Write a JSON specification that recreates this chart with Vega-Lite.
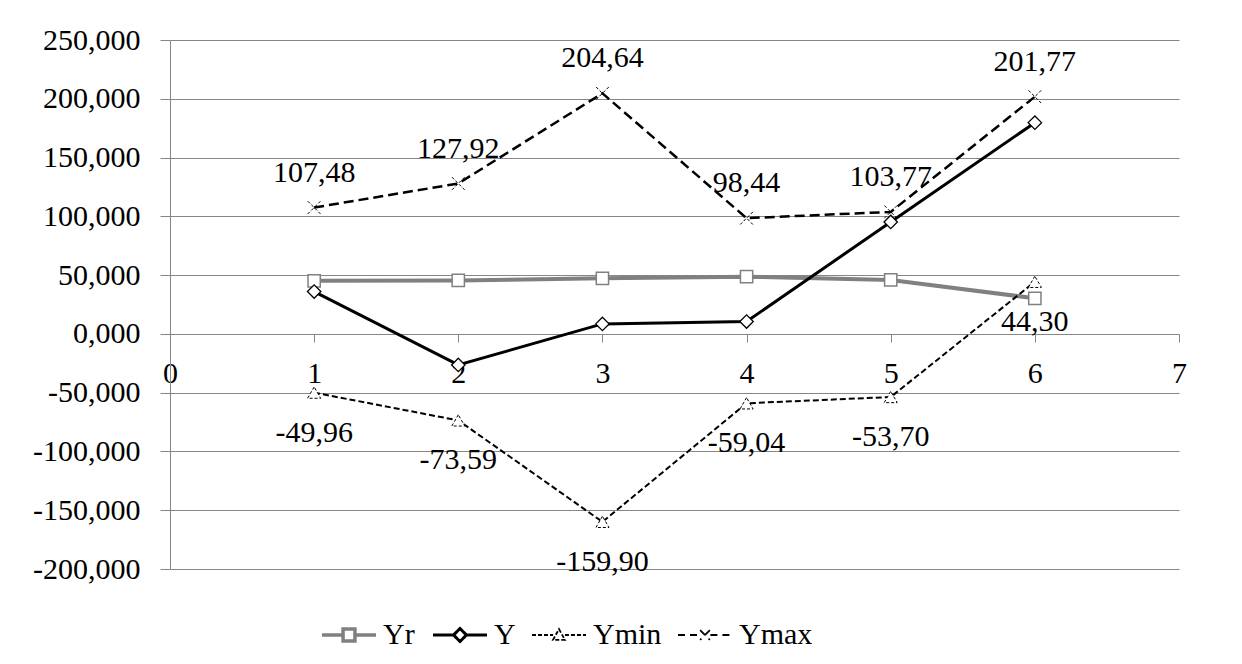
{
  "$schema": "https://vega.github.io/schema/vega-lite/v6.json",
  "width": 1009,
  "height": 529,
  "autosize": "none",
  "padding": {"left": 170, "top": 40, "right": 63, "bottom": 95},
  "background": "white",
  "data": {
    "values": [
      {"x": 1, "series": "Yr", "value": 45.1},
      {"x": 2, "series": "Yr", "value": 45.5},
      {"x": 3, "series": "Yr", "value": 47.3},
      {"x": 4, "series": "Yr", "value": 48.7},
      {"x": 5, "series": "Yr", "value": 45.9},
      {"x": 6, "series": "Yr", "value": 30.3},
      {"x": 1, "series": "Y", "value": 36.0},
      {"x": 2, "series": "Y", "value": -26.4},
      {"x": 3, "series": "Y", "value": 8.5},
      {"x": 4, "series": "Y", "value": 10.5},
      {"x": 5, "series": "Y", "value": 95.2},
      {"x": 6, "series": "Y", "value": 179.7},
      {"x": 1, "series": "Ymin", "value": -49.96},
      {"x": 2, "series": "Ymin", "value": -73.59},
      {"x": 3, "series": "Ymin", "value": -159.90},
      {"x": 4, "series": "Ymin", "value": -59.04},
      {"x": 5, "series": "Ymin", "value": -53.70},
      {"x": 6, "series": "Ymin", "value": 44.30},
      {"x": 1, "series": "Ymax", "value": 107.48},
      {"x": 2, "series": "Ymax", "value": 127.92},
      {"x": 3, "series": "Ymax", "value": 204.64},
      {"x": 4, "series": "Ymax", "value": 98.44},
      {"x": 5, "series": "Ymax", "value": 103.77},
      {"x": 6, "series": "Ymax", "value": 201.77}
    ]
  },
  "config": {
    "locale": {
      "number": {"decimal": ",", "thousands": ".", "grouping": [3], "currency": ["", ""], "minus": "-"}
    },
    "view": {"stroke": null},
    "font": "Liberation Serif",
    "axis": {
      "labelFont": "Liberation Serif",
      "labelFontSize": 30,
      "labelColor": "#000000",
      "domainColor": "#868686",
      "tickColor": "#868686",
      "gridColor": "#868686",
      "domainWidth": 1,
      "tickWidth": 1,
      "gridWidth": 1,
      "title": null
    },
    "legend": {
      "labelFont": "Liberation Serif",
      "labelFontSize": 30,
      "labelColor": "#000000"
    }
  },
  "encoding": {
    "x": {
      "field": "x",
      "type": "quantitative",
      "scale": {"domain": [0, 7], "nice": false, "zero": false},
      "axis": {
        "values": [0, 1, 2, 3, 4, 5, 6, 7],
        "format": "d",
        "grid": false,
        "tickSize": 8,
        "labelPadding": 16,
        "offset": -235,
        "labelFlush": false,
        "labelOverlap": false
      }
    },
    "y": {
      "field": "value",
      "type": "quantitative",
      "scale": {"domain": [-200, 250], "nice": false, "zero": false},
      "axis": {
        "values": [-200, -150, -100, -50, 0, 50, 100, 150, 200, 250],
        "format": ".3f",
        "grid": true,
        "tickSize": 10,
        "labelPadding": 20,
        "labelOverlap": false
      }
    }
  },
  "layer": [
    {
      "transform": [{"filter": "datum.series == 'Yr'"}],
      "mark": {"type": "line", "strokeWidth": 4},
      "encoding": {
        "color": {
          "field": "series",
          "type": "nominal",
          "scale": {"domain": ["Yr", "Y", "Ymin", "Ymax"], "range": ["#808080", "#000000", "#000000", "#000000"]},
          "legend": {
            "title": null,
            "orient": "none",
            "direction": "horizontal",
            "columns": 4,
            "legendX": 164,
            "legendY": 580,
            "padding": 0,
            "columnPadding": 12,
            "labelOffset": 19,
            "symbolSize": 2916,
            "symbolType": {"expr": "datum.value == 'Yr' ? 'M-1,0H-0.22M0.22,0H1M-0.22,-0.22H0.22V0.22H-0.22Z' : datum.value == 'Y' ? 'M-1,0H-0.24M0.24,0H1M-0.24,0L0,-0.24L0.24,0L0,0.24Z' : datum.value == 'Ymin' ? 'M-1,0H-0.22M0.22,0H1M0,-0.22L0.22,0.18H-0.22Z' : 'M-1,0H-0.2M0.2,0H1M-0.18,-0.18L0.18,0.18M0.18,-0.18L-0.18,0.18'"},
            "symbolDash": {"expr": "datum.value == 'Ymin' ? [4, 2] : datum.value == 'Ymax' ? [7, 5] : [1, 0]"},
            "symbolStrokeWidth": {"expr": "datum.value == 'Yr' ? 3.5 : datum.value == 'Y' ? 3 : 1.8"},
            "symbolStrokeColor": {"expr": "datum.value == 'Yr' ? '#808080' : '#000000'"},
            "symbolFillColor": "#ffffff",
            "symbolOpacity": 1
          }
        }
      }
    },
    {
      "transform": [{"filter": "datum.series == 'Yr'"}],
      "mark": {"type": "point", "shape": "square", "size": 150, "filled": true, "fill": "#ffffff", "stroke": "#808080", "strokeWidth": 1.5, "opacity": 1}
    },
    {
      "transform": [{"filter": "datum.series == 'Y'"}],
      "mark": {"type": "line", "color": "#000000", "strokeWidth": 3}
    },
    {
      "transform": [{"filter": "datum.series == 'Y'"}],
      "mark": {"type": "point", "shape": "diamond", "size": 180, "filled": true, "fill": "#ffffff", "stroke": "#000000", "strokeWidth": 1.3, "opacity": 1}
    },
    {
      "transform": [{"filter": "datum.series == 'Ymin'"}],
      "mark": {"type": "line", "color": "#000000", "strokeWidth": 2, "strokeDash": [6, 3]}
    },
    {
      "transform": [{"filter": "datum.series == 'Ymin'"}],
      "mark": {"type": "point", "shape": "triangle-up", "size": 170, "filled": true, "fill": "#ffffff", "stroke": "#000000", "strokeWidth": 1, "strokeDash": [3, 2], "opacity": 1}
    },
    {
      "transform": [{"filter": "datum.series == 'Ymax'"}],
      "mark": {"type": "line", "color": "#000000", "strokeWidth": 2.5, "strokeDash": [10, 5]}
    },
    {
      "transform": [{"filter": "datum.series == 'Ymax'"}],
      "mark": {"type": "point", "shape": "M-1,-1L1,1M1,-1L-1,1", "size": 160, "filled": false, "stroke": "#000000", "strokeWidth": 1, "strokeDash": [3, 2], "opacity": 1}
    },
    {
      "transform": [{"filter": "datum.series == 'Ymax'"}],
      "mark": {"type": "text", "font": "Liberation Serif", "fontSize": 30, "color": "#000000", "dy": -35, "baseline": "middle", "align": "center"},
      "encoding": {"text": {"field": "value", "type": "quantitative", "format": ".2f"}}
    },
    {
      "transform": [{"filter": "datum.series == 'Ymin'"}],
      "mark": {"type": "text", "font": "Liberation Serif", "fontSize": 30, "color": "#000000", "dy": 40, "baseline": "middle", "align": "center"},
      "encoding": {"text": {"field": "value", "type": "quantitative", "format": ".2f"}}
    }
  ]
}
